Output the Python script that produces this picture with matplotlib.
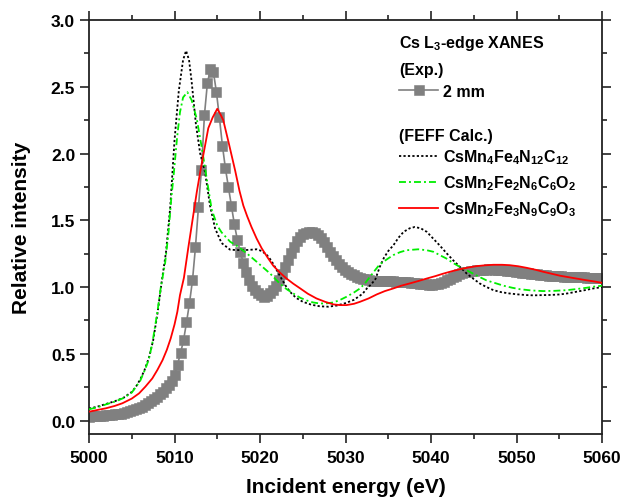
import matplotlib
matplotlib.use("Agg")
import matplotlib.pyplot as plt
from matplotlib.ticker import MultipleLocator

plt.rcParams['font.family'] = ['Liberation Sans', 'DejaVu Sans']
plt.rcParams['font.weight'] = 'bold'
plt.rcParams['mathtext.fontset'] = 'custom'
plt.rcParams['mathtext.rm'] = 'Liberation Sans:bold'
plt.rcParams['mathtext.it'] = 'Liberation Sans:bold:italic'
plt.rcParams['mathtext.bf'] = 'Liberation Sans:bold'
plt.rcParams['lines.scale_dashes'] = False

# ---------------- data ----------------
# Experimental Cs L3-edge XANES (2 mm)
E_exp = [5000.00, 5000.20, 5000.55, 5000.90, 5001.25, 5001.60, 5001.95, 5002.30, 5002.65,
         5003.00, 5003.35, 5003.70, 5004.05, 5004.40, 5004.75, 5005.10, 5005.45, 5005.80,
         5006.15, 5006.50, 5006.85, 5007.20, 5007.55, 5007.90, 5008.25, 5008.60, 5008.95,
         5009.30, 5009.65, 5010.00,
         5010.35, 5010.70, 5011.05, 5011.40, 5011.75, 5012.10, 5012.45, 5012.80, 5013.15,
         5013.50, 5013.85, 5014.20, 5014.55, 5014.90, 5015.25, 5015.60, 5015.95, 5016.30,
         5016.65, 5017.00, 5017.35, 5017.70, 5018.05, 5018.40, 5018.75, 5019.10, 5019.45,
         5019.80, 5020.15, 5020.50, 5020.85, 5021.20, 5021.55, 5021.90, 5022.25, 5022.60,
         5022.95, 5023.30, 5023.65, 5024.00, 5024.35, 5024.70, 5025.05, 5025.40, 5025.75,
         5026.10, 5026.45, 5026.80, 5027.15, 5027.50, 5027.85, 5028.20, 5028.55, 5028.90,
         5029.25, 5029.60, 5029.95,
         5030.30, 5030.65, 5031.00, 5031.35, 5031.70, 5032.05, 5032.40, 5032.75, 5033.10,
         5033.45, 5033.80, 5034.15, 5034.50, 5034.85, 5035.20, 5035.55, 5035.90, 5036.25,
         5036.60, 5036.95, 5037.30, 5037.65, 5038.00, 5038.35, 5038.70, 5039.05, 5039.40,
         5039.75, 5040.10, 5040.45, 5040.80, 5041.15, 5041.50, 5041.85, 5042.20, 5042.55,
         5042.90, 5043.25, 5043.60, 5043.95, 5044.30, 5044.65, 5045.00, 5045.35, 5045.70,
         5046.05, 5046.40, 5046.75, 5047.10, 5047.45, 5047.80, 5048.15, 5048.50, 5048.85,
         5049.20, 5049.55, 5049.90, 5050.25, 5050.60, 5050.95, 5051.30, 5051.65, 5052.00,
         5052.35, 5052.70, 5053.05, 5053.40, 5053.75, 5054.10, 5054.45, 5054.80, 5055.15,
         5055.50, 5055.85, 5056.20, 5056.55, 5056.90, 5057.25, 5057.60, 5057.95, 5058.30,
         5058.65, 5059.00, 5059.35, 5059.70, 5060.00]
I_exp = [0.030, 0.031, 0.032, 0.033, 0.035, 0.037, 0.040, 0.042, 0.044,
         0.046, 0.049, 0.052, 0.056, 0.062, 0.069, 0.077, 0.086, 0.095,
         0.105, 0.116, 0.129, 0.144, 0.160, 0.178, 0.198, 0.218, 0.241,
         0.268, 0.300, 0.345,
         0.42, 0.505, 0.60, 0.735, 0.88, 1.05, 1.30, 1.60, 1.88,
         2.29, 2.53, 2.63, 2.61, 2.46, 2.27, 2.06, 1.89, 1.75,
         1.61, 1.47, 1.355, 1.26, 1.18, 1.11, 1.05, 1.005, 0.975,
         0.955, 0.937, 0.928, 0.935, 0.952, 0.978, 1.01, 1.055, 1.10,
         1.15, 1.205, 1.255, 1.30, 1.345, 1.375, 1.395, 1.408, 1.414,
         1.412, 1.405, 1.39, 1.365, 1.335, 1.30, 1.264, 1.232, 1.20,
         1.172, 1.148, 1.128,
         1.113, 1.100, 1.088, 1.077, 1.069, 1.062, 1.057, 1.052, 1.049,
         1.047, 1.046, 1.045, 1.045, 1.044, 1.043, 1.042, 1.041, 1.040,
         1.039, 1.037, 1.035, 1.033, 1.031, 1.028, 1.025, 1.022, 1.020,
         1.018, 1.018, 1.020, 1.024, 1.030, 1.039, 1.050, 1.062, 1.075,
         1.086, 1.095, 1.103, 1.110, 1.115, 1.120, 1.123, 1.126, 1.128,
         1.130, 1.131, 1.132, 1.132, 1.131, 1.130, 1.128, 1.126, 1.123,
         1.120, 1.117, 1.115, 1.112, 1.109, 1.106, 1.103, 1.100, 1.098,
         1.095, 1.092, 1.090, 1.088, 1.086, 1.084, 1.083, 1.081, 1.080,
         1.079, 1.078, 1.077, 1.076, 1.075, 1.074, 1.073, 1.072, 1.071,
         1.071, 1.070, 1.070, 1.070, 1.070]

# FEFF: CsMn4Fe4N12C12
E_c1 = [5000, 5001, 5002, 5003, 5004, 5005, 5005.5, 5006, 5006.5, 5007, 5007.5, 5008,
        5008.5, 5009, 5009.5, 5010, 5010.5, 5011, 5011.35, 5011.7, 5012, 5012.5, 5013,
        5013.57, 5014.15, 5014.74, 5015.5, 5016.5, 5017, 5018, 5019, 5019.6, 5020.2,
        5020.8, 5021.3, 5021.75, 5022.5, 5023, 5023.5, 5024.2, 5025, 5026, 5027, 5028,
        5029, 5030, 5031, 5032, 5032.5, 5033, 5033.5, 5034, 5034.5, 5035, 5035.6, 5036.2,
        5036.8, 5037.5, 5038.1, 5038.8, 5039.5, 5040.3, 5041, 5041.8, 5042.6, 5043.4,
        5044.2, 5045, 5045.7, 5046.5, 5047.3, 5048.2, 5049.2, 5050.2, 5051.2, 5052,
        5053.1, 5054, 5055.1, 5056, 5057, 5058, 5059, 5060]
I_c1 = [0.09, 0.105, 0.125, 0.145, 0.17, 0.215, 0.255, 0.31, 0.38, 0.47, 0.6, 0.8,
        1.04, 1.26, 1.6, 2.1, 2.47, 2.70, 2.77, 2.70, 2.54, 2.22, 2.0,
        1.86, 1.61, 1.44, 1.33, 1.28, 1.278, 1.276, 1.28, 1.283, 1.27,
        1.24, 1.20, 1.15, 1.064, 1.01, 0.965, 0.92, 0.89, 0.868, 0.856, 0.853,
        0.862, 0.88, 0.905, 0.95, 0.99, 1.02, 1.06, 1.15, 1.22, 1.27, 1.313, 1.37,
        1.414, 1.44, 1.45, 1.44, 1.414, 1.36, 1.313, 1.255, 1.20, 1.15,
        1.10, 1.06, 1.027, 1.0, 0.977, 0.962, 0.952, 0.945, 0.94, 0.938,
        0.94, 0.941, 0.945, 0.953, 0.965, 0.977, 0.99, 1.0]

# FEFF: CsMn2Fe2N6C6O2
E_c2 = [5000, 5001, 5002, 5003, 5004, 5005, 5005.5, 5006, 5006.6, 5007, 5007.4, 5008,
        5008.4, 5008.9, 5009.3, 5009.6, 5009.9, 5010.3, 5010.64, 5011, 5011.5, 5012,
        5012.6, 5013.2, 5013.77, 5014.35, 5015, 5015.5, 5016.5, 5017.5, 5018.5, 5019.6,
        5020.4, 5021.2, 5022.3, 5023.1, 5023.9, 5024.7, 5025.45, 5026.2, 5027, 5027.8,
        5028.6, 5029.4, 5030.1, 5031, 5031.7, 5032.3, 5032.9, 5033.5, 5034, 5035,
        5035.6, 5036.4, 5037.15, 5038.5, 5039.5, 5040.3, 5041, 5041.8, 5042.6, 5043.4,
        5044.2, 5044.95, 5045.7, 5046.5, 5047.5, 5048.5, 5049.5, 5050.4, 5051.7, 5053.1,
        5054.5, 5055.9, 5057, 5058.2, 5059, 5060]
I_c2 = [0.085, 0.1, 0.122, 0.142, 0.168, 0.21, 0.254, 0.30, 0.39, 0.46, 0.578, 0.815,
        1.0, 1.18, 1.41, 1.65, 1.84, 2.12, 2.31, 2.42, 2.46, 2.40,
        2.26, 2.04, 1.81, 1.58, 1.46, 1.41, 1.34, 1.30, 1.25, 1.19,
        1.145, 1.10, 1.027, 0.985, 0.952, 0.92, 0.90, 0.885, 0.877, 0.878,
        0.885, 0.905, 0.927, 0.96, 0.99, 1.03, 1.08, 1.13, 1.17, 1.215,
        1.24, 1.262, 1.276, 1.283, 1.276, 1.264, 1.24, 1.214, 1.18, 1.15,
        1.125, 1.10, 1.075, 1.05, 1.03, 1.01, 0.995, 0.984, 0.975, 0.97,
        0.972, 0.977, 0.985, 0.995, 1.003, 1.01]

# FEFF: CsMn2Fe3N9C9O3
E_c3 = [5000, 5001, 5001.95, 5003, 5003.9, 5005, 5005.85, 5006.6, 5007.4, 5008, 5008.6,
        5009.1, 5009.55, 5010, 5010.33, 5010.64, 5011.1, 5011.6, 5012.1, 5012.6, 5013,
        5013.37, 5013.95, 5014.46, 5015.0, 5015.4, 5015.7, 5016.3, 5016.7, 5017.1,
        5017.6, 5018.05, 5018.5, 5019.0, 5019.6, 5020.2, 5020.9, 5021.55, 5022.3, 5023.1,
        5023.9, 5024.7, 5025.6, 5026.6, 5027.6, 5028.6, 5029.4, 5030.1, 5031, 5031.7,
        5032.7, 5033.65, 5034.6, 5035.6, 5036.5, 5037.5, 5038.5, 5039.5, 5040.5, 5041.4,
        5042.4, 5043.4, 5044.4, 5045.35, 5046.3, 5047.3, 5048.3, 5049.2, 5050.2, 5051.2,
        5052.2, 5053.1, 5054.1, 5055.1, 5056, 5057, 5058, 5059, 5060]
I_c3 = [0.067, 0.08, 0.092, 0.11, 0.13, 0.165, 0.204, 0.255, 0.316, 0.38, 0.453,
        0.53, 0.615, 0.72, 0.815, 0.94, 1.07, 1.29, 1.50, 1.71, 1.86,
        1.99, 2.19, 2.27, 2.335, 2.29, 2.25, 2.09, 1.98, 1.87,
        1.72, 1.61, 1.53, 1.45, 1.364, 1.29, 1.22, 1.16, 1.11, 1.064,
        1.025, 0.99, 0.95, 0.915, 0.89, 0.87, 0.865, 0.865, 0.875, 0.89,
        0.915, 0.945, 0.97, 0.99, 1.01, 1.027, 1.045, 1.064, 1.082, 1.10,
        1.118, 1.134, 1.147, 1.157, 1.163, 1.167, 1.167, 1.164, 1.156, 1.144,
        1.13, 1.115, 1.10, 1.085, 1.075, 1.064, 1.053, 1.043, 1.032]

exp_label = "2 mm"
calc_labels = ["CsMn$_4$Fe$_4$N$_{12}$C$_{12}$",
               "CsMn$_2$Fe$_2$N$_6$C$_6$O$_2$",
               "CsMn$_2$Fe$_3$N$_9$C$_9$O$_3$"]
x_ticks = [5000, 5010, 5020, 5030, 5040, 5050, 5060]
y_ticks = [0.0, 0.5, 1.0, 1.5, 2.0, 2.5, 3.0]

# ---------------- figure ----------------
fig = plt.figure(figsize=(6.23, 5.02), dpi=100)
ax = fig.add_axes([0.1429, 0.1335, 0.8234, 0.8247])

gray = '#808080'
l_exp, = ax.plot(E_exp, I_exp, color=gray, lw=1.2, marker='s', markersize=6.8,
                 markerfacecolor=gray, markeredgecolor=gray, markeredgewidth=0.4,
                 label=exp_label, zorder=2)
l1, = ax.plot(E_c1, I_c1, color='black', lw=1.3, linestyle=(0, (1.6, 1.6)),
              label=calc_labels[0], zorder=3)
l2, = ax.plot(E_c2, I_c2, color='#00ee00', lw=1.3, linestyle=(0, (5.0, 2.2, 1.4, 2.2)),
              label=calc_labels[1], zorder=3)
l3, = ax.plot(E_c3, I_c3, color='#ff0000', lw=1.3, linestyle='-',
              label=calc_labels[2], zorder=4)

ax.set_xlim(5000, 5060)
ax.set_ylim(-0.1, 3.0)
ax.set_xticks(x_ticks)
ax.set_yticks(y_ticks)
ax.set_xticklabels([str(v) for v in x_ticks])
ax.set_yticklabels(["%.1f" % v for v in y_ticks])
ax.xaxis.set_minor_locator(MultipleLocator(5))
ax.yaxis.set_minor_locator(MultipleLocator(0.25))

for s in ax.spines.values():
    s.set_linewidth(1.3)
    s.set_color('#222222')
ax.tick_params(which='both', direction='out', top=True, right=True,
               labeltop=False, labelright=False, color='#222222', width=1.2)
ax.tick_params(which='major', length=6.5, labelsize=12.5, pad=3.5)
ax.tick_params(which='minor', length=3.8)
ax.tick_params(axis='x', which='major', pad=5)
for lab in ax.get_xticklabels() + ax.get_yticklabels():
    lab.set_fontweight('bold')

ax.set_xlabel("Incident energy (eV)", fontsize=15, fontweight='bold', labelpad=9)
ax.set_ylabel("Relative intensity", fontsize=15, fontweight='bold', labelpad=14)

# legends
leg_kw = dict(frameon=False, borderpad=0, borderaxespad=0, handlelength=2.4,
              handletextpad=0.3, alignment='left',
              prop={'weight': 'bold', 'size': 11.5},
              title_fontproperties={'weight': 'bold', 'size': 11.5})
legA = ax.legend(handles=[l_exp], labels=[exp_label],
                 title="Cs L$_3$-edge XANES\n(Exp.)", loc='upper left',
                 bbox_to_anchor=(0.605, 0.968), numpoints=1, **leg_kw)
legA.get_title().set_linespacing(1.8)
legA._legend_box.sep = 5
ax.add_artist(legA)
legB = ax.legend(handles=[l1, l2, l3], labels=calc_labels,
                 title="(FEFF Calc.)", loc='upper left',
                 bbox_to_anchor=(0.605, 0.738), labelspacing=0.45, **leg_kw)
legB._legend_box.sep = 3

fig.savefig("out.png", dpi=100)
